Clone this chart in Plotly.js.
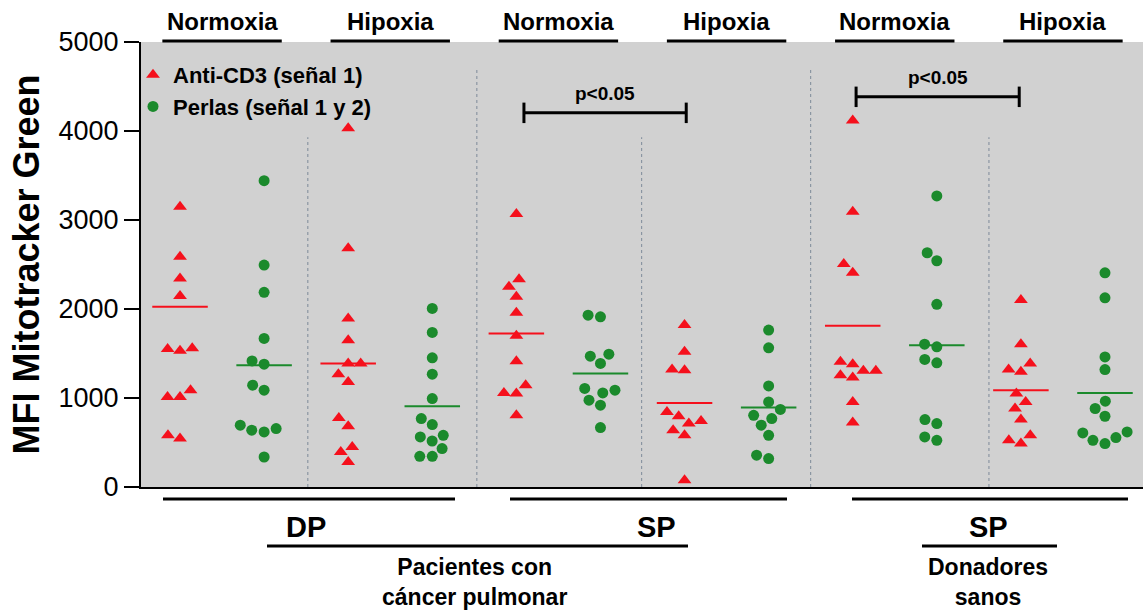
<!DOCTYPE html>
<html>
<head>
<meta charset="utf-8">
<script src="https://cdn.plot.ly/plotly-3.0.1.min.js"></script>
<style>html,body{margin:0;padding:0;background:#fff;}#chart{width:1143px;height:613px;}</style>
</head>
<body>
<div id="chart"></div>
<script>
// ---------------- DATA ----------------
const seriesNames = ['Anti-CD3 (señal 1)', 'Perlas (señal 1 y 2)'];
const conditionLabels = ['Normoxia', 'Hipoxia', 'Normoxia', 'Hipoxia', 'Normoxia', 'Hipoxia'];
const cellLabels = ['DP', 'SP', 'SP'];
const cohortLabels = ['Pacientes con<br>cáncer pulmonar', 'Donadores<br>sanos'];
const yTicks = [0, 1000, 2000, 3000, 4000, 5000];
const yTitle = 'MFI Mitotracker Green';
const sigLabel = 'p<0.05';

// Anti-CD3 (triangles) per condition
const antiCD3_DP_Normoxia  = [3150, 2587, 2344, 2145, 1560, 1530, 1550, 1012, 1012, 1088, 544, 581];
const antiCD3_DP_Hipoxia   = [4031, 2682, 1894, 1650, 1388, 1388, 1268, 1181, 776, 683, 450, 394, 281];
const antiCD3_SP_Normoxia  = [3067, 2333, 2250, 2137, 1957, 1699, 1414, 1144, 1057, 1050, 806];
const antiCD3_SP_Hipoxia   = [1819, 1519, 1320, 1313, 844, 795, 742, 713, 638, 581, 75];
const antiCD3_Don_Normoxia = [4117, 3093, 2505, 2407, 1380, 1406, 1305, 1231, 1256, 1305, 956, 724];
const antiCD3_Don_Hipoxia  = [2100, 1605, 1320, 1294, 1388, 1050, 956, 882, 758, 581, 488, 525];

// Perlas (circles) per condition
const perlas_DP_Normoxia  = [3442, 2494, 2187, 1669, 1417, 1380, 1088, 1144, 694, 638, 619, 657, 337];
const perlas_DP_Hipoxia   = [2007, 1737, 1451, 1268, 994, 769, 702, 562, 517, 581, 432, 345, 345];
const perlas_SP_Normoxia  = [1912, 1931, 1470, 1492, 1388, 1088, 1107, 1057, 975, 919, 668];
const perlas_SP_Hipoxia   = [1763, 1564, 1136, 956, 871, 769, 806, 694, 581, 357, 319];
const perlas_Don_Normoxia = [3270, 2632, 2542, 2052, 1605, 1575, 1395, 1433, 758, 713, 525, 562];
const perlas_Don_Hipoxia  = [2407, 2126, 1462, 1320, 964, 882, 795, 619, 556, 488, 525, 607];

// Horizontal bars (group central value) per condition
const antiCD3Means = [2025, 1388, 1726, 945, 1811, 1088];
const perlasMeans  = [1369, 908, 1275, 893, 1594, 1057];

// ---------------- LAYOUT CONSTANTS ----------------
const W = 1143, H = 613;
const M = {l: 141, r: 0, t: 42, b: 126};
const XR = [-0.464, 11.452];
const YR = [0, 5000];
const pxPerX = (W - M.l - M.r) / (XR[1] - XR[0]);
const pxPerY = (H - M.t - M.b) / (YR[1] - YR[0]);
const FONT = 'Liberation Sans, Arial, Helvetica, sans-serif';
const RED = '#f5101c', GREEN = '#1b8a2c';

const antiCD3Cols = [antiCD3_DP_Normoxia, antiCD3_DP_Hipoxia, antiCD3_SP_Normoxia, antiCD3_SP_Hipoxia, antiCD3_Don_Normoxia, antiCD3_Don_Hipoxia];
const perlasCols  = [perlas_DP_Normoxia, perlas_DP_Hipoxia, perlas_SP_Normoxia, perlas_SP_Hipoxia, perlas_Don_Normoxia, perlas_Don_Hipoxia];

// beeswarm: place points left/right of centre so markers do not overlap
function swarm(values, centre, diam) {
  const order = values.map((v, i) => i).sort((a, b) => values[a] - values[b]);
  const placed = [];
  const xs = new Array(values.length);
  order.forEach(i => {
    const py = values[i] * pxPerY;
    const intervals = [];
    placed.forEach(p => {
      const dy = Math.abs(p.py - py);
      if (dy < diam) {
        const hw = Math.sqrt(diam * diam - dy * dy);
        intervals.push([p.px - hw, p.px + hw]);
      }
    });
    const cands = [0];
    intervals.forEach(iv => { cands.push(iv[0], iv[1]); });
    const ok = c => intervals.every(iv => c <= iv[0] + 1e-6 || c >= iv[1] - 1e-6);
    let best = null;
    cands.filter(ok).forEach(c => {
      if (best === null || Math.abs(c) < Math.abs(best) - 1e-6 || (Math.abs(Math.abs(c) - Math.abs(best)) < 1e-6 && c < best)) best = c;
    });
    placed.push({px: best, py: py});
    xs[i] = centre + best / pxPerX;
  });
  return xs;
}

function buildSeries(cols, parity, diam) {
  const x = [], y = [];
  cols.forEach((vals, k) => {
    const xs = swarm(vals, 2 * k + parity, diam);
    vals.forEach((v, i) => { x.push(xs[i]); y.push(v); });
  });
  return {x, y};
}
function buildMeans(means, parity) {
  const x = [], y = [];
  means.forEach((m, k) => {
    const c = 2 * k + parity;
    x.push(c - 0.33, c + 0.33, null);
    y.push(m, m, null);
  });
  return {x, y};
}

const sA = buildSeries(antiCD3Cols, 0, 12.5);
const sP = buildSeries(perlasCols, 1, 12.5);
const mA = buildMeans(antiCD3Means, 0);
const mP = buildMeans(perlasMeans, 1);

const traces = [
  {type: 'scatter', mode: 'lines', x: mA.x, y: mA.y, line: {color: RED, width: 2}, showlegend: false, hoverinfo: 'skip'},
  {type: 'scatter', mode: 'lines', x: mP.x, y: mP.y, line: {color: GREEN, width: 2}, showlegend: false, hoverinfo: 'skip'},
  {type: 'scatter', mode: 'markers', name: seriesNames[0], x: sA.x, y: sA.y,
   marker: {symbol: 'triangle-up', size: 12, color: RED}},
  {type: 'scatter', mode: 'markers', name: seriesNames[1], x: sP.x, y: sP.y,
   marker: {symbol: 'circle', size: 11, color: GREEN}}
];

const py2paper = p => (H - M.b - p) / (H - M.t - M.b);
const px2x = p => XR[0] + (p - M.l) / pxPerX;

const shapes = [];
const annotations = [];

// vertical dotted separators
[[1.52, 3930], [3.53, 4710], [5.49, 3930], [7.5, 4710], [9.62, 3930]].forEach(s => {
  shapes.push({type: 'line', xref: 'x', yref: 'y', x0: s[0], x1: s[0], y0: 0, y1: s[1],
    line: {color: '#7d8a99', width: 1, dash: 'dot'}, layer: 'below'});
});

// header labels + underlines
conditionLabels.forEach((lab, k) => {
  const c = 2 * k + 0.5;
  annotations.push({text: '<b>' + lab + '</b>', xref: 'x', yref: 'paper', x: c, y: py2paper(22),
    xanchor: 'center', yanchor: 'middle', showarrow: false, font: {family: FONT, size: 24, color: '#000'}});
  shapes.push({type: 'line', xref: 'x', yref: 'paper', x0: c - 0.71, x1: c + 0.71, y0: py2paper(41), y1: py2paper(41),
    line: {color: '#000', width: 3}});
});

// significance brackets
[[4.09, 6.02, 4204], [8.04, 9.98, 4384]].forEach(b => {
  const tk = 115;
  shapes.push({type: 'line', xref: 'x', yref: 'y', x0: b[0], x1: b[1], y0: b[2], y1: b[2], line: {color: '#000', width: 3}});
  shapes.push({type: 'line', xref: 'x', yref: 'y', x0: b[0], x1: b[0], y0: b[2] - tk, y1: b[2] + tk, line: {color: '#000', width: 3}});
  shapes.push({type: 'line', xref: 'x', yref: 'y', x0: b[1], x1: b[1], y0: b[2] - tk, y1: b[2] + tk, line: {color: '#000', width: 3}});
  annotations.push({text: '<b>' + sigLabel + '</b>', xref: 'x', yref: 'y', x: (b[0] + b[1]) / 2, y: b[2] + 80,
    xanchor: 'center', yanchor: 'bottom', showarrow: false, font: {family: FONT, size: 19, color: '#000'}});
});

// bottom group lines & labels
const rowY1 = py2paper(499), rowY2 = py2paper(546);
[[163, 455], [510, 787], [852, 1128]].forEach(l => {
  shapes.push({type: 'line', xref: 'x', yref: 'paper', x0: px2x(l[0]), x1: px2x(l[1]), y0: rowY1, y1: rowY1, line: {color: '#000', width: 3}});
});
[[267, 688], [922, 1057]].forEach(l => {
  shapes.push({type: 'line', xref: 'x', yref: 'paper', x0: px2x(l[0]), x1: px2x(l[1]), y0: rowY2, y1: rowY2, line: {color: '#000', width: 3}});
});
[306, 656, 988].forEach((p, k) => {
  annotations.push({text: '<b>' + cellLabels[k] + '</b>', xref: 'x', yref: 'paper', x: px2x(p), y: py2paper(527),
    xanchor: 'center', yanchor: 'middle', showarrow: false, font: {family: FONT, size: 29, color: '#000'}});
});
[474, 988].forEach((p, k) => {
  annotations.push({text: '<b>' + cohortLabels[k].replace('<br>', '</b><br><b>') + '</b>', xref: 'x', yref: 'paper', x: px2x(p), y: py2paper(582),
    xanchor: 'center', yanchor: 'middle', showarrow: false, font: {family: FONT, size: 23, color: '#000'}});
});

const layout = {
  width: W, height: H,
  margin: M,
  paper_bgcolor: '#ffffff',
  plot_bgcolor: '#d1d1d1',
  showlegend: true,
  legend: {x: (133 - M.l) / (W - M.l - M.r), y: py2paper(54), yanchor: 'top', xanchor: 'left',
    bgcolor: 'rgba(0,0,0,0)', font: {family: FONT, size: 22, color: '#000', weight: 'bold'}, tracegroupgap: 0, itemwidth: 30},
  xaxis: {range: XR, showline: true, linecolor: '#000', linewidth: 2, showticklabels: false, ticks: '',
    showgrid: false, zeroline: false, fixedrange: true},
  yaxis: {range: YR, tickvals: yTicks, ticktext: yTicks.map(String), ticks: 'outside', ticklen: 15, tickwidth: 2,
    tickcolor: '#000', showline: true, linecolor: '#000', linewidth: 2, showgrid: false, zeroline: false,
    tickfont: {family: FONT, size: 27, color: '#000'},
    title: {text: '<b>' + yTitle + '</b>', font: {family: FONT, size: 36, color: '#000'}, standoff: 8},
    automargin: false, fixedrange: true},
  shapes: shapes,
  annotations: annotations
};

Plotly.newPlot('chart', traces, layout, {staticPlot: true, displayModeBar: false});
</script>
</body>
</html>
